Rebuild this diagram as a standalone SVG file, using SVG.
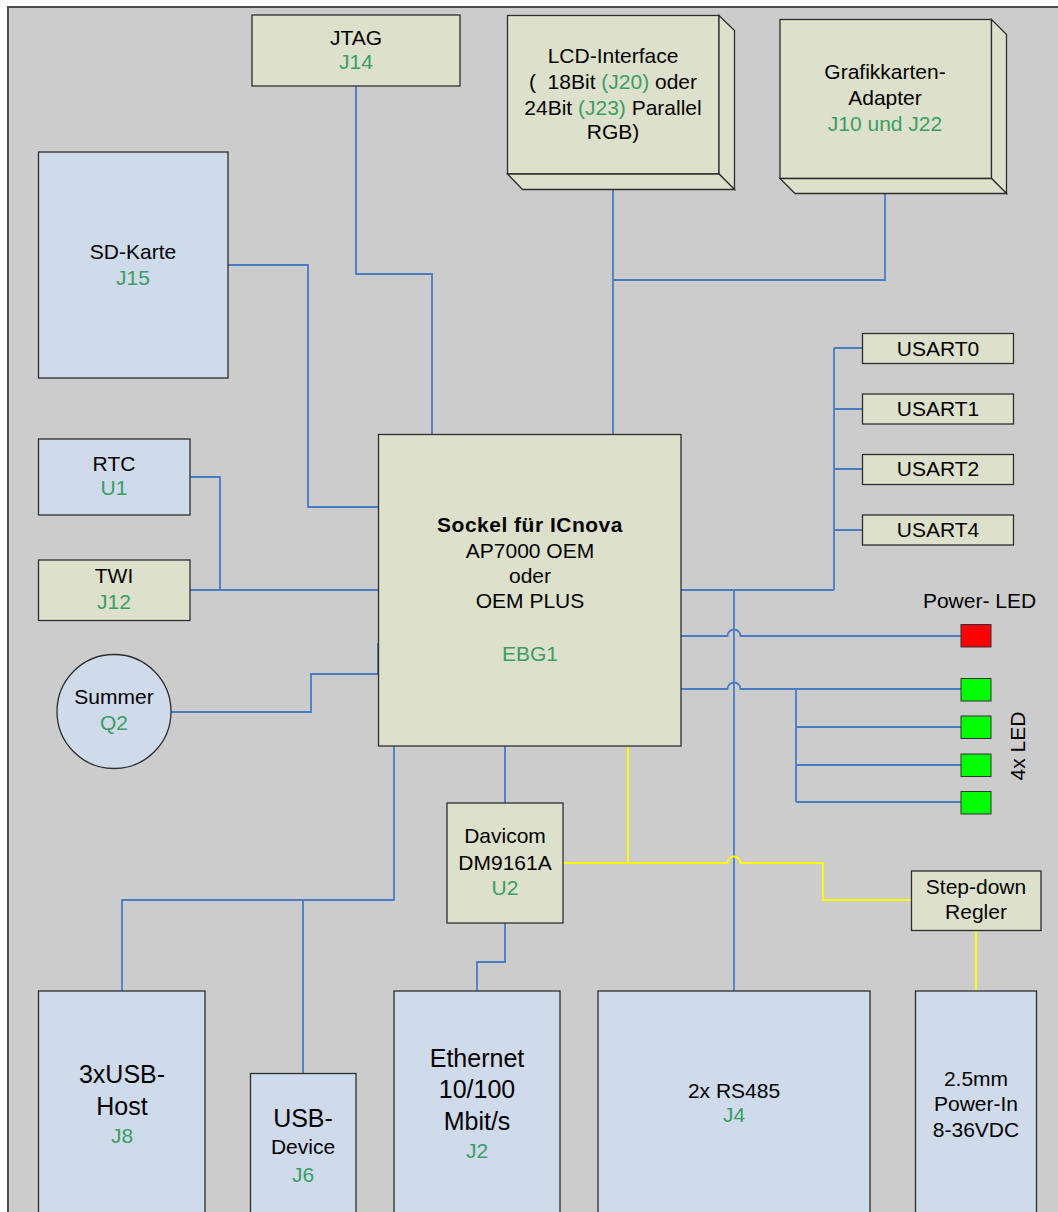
<svg xmlns="http://www.w3.org/2000/svg" width="1058" height="1212" viewBox="0 0 1058 1212">
<style>
.bg{fill:#cccccc;stroke:#4d4d4d;stroke-width:2}
.box{fill:#dde0cb;stroke:#2e2e2e;stroke-width:1.3}
.bbox{fill:#cfdaeb;stroke:#2e2e2e;stroke-width:1.3}
.w{fill:none;stroke:#4a7cc6;stroke-width:1.8}
.y{fill:none;stroke:#ffff00;stroke-width:1.8}
.t{font-family:"Liberation Sans",Arial,sans-serif;font-size:21px;fill:#000;text-anchor:middle}
.big{font-size:25px}
.g{fill:#3a9e63}
.b{font-weight:bold;letter-spacing:0.5px}
.led{stroke:#333;stroke-width:1}
</style>
<rect x="0" y="0" width="1058" height="1212" fill="#ffffff"/>
<rect class="bg" x="8" y="7" width="1100" height="1300"/>

<g id="connectors">
  <path class="w" d="M356,86 V274 H432 V434"/>
  <path class="w" d="M228,265 H308 V507 H378"/>
  <path class="w" d="M190,477 H220 V590"/>
  <path class="w" d="M190,590 H378"/>
  <path class="w" d="M171,712 H311 V674 H378 M378,643 V674"/>
  <path class="w" d="M613,174 V434"/>
  <path class="w" d="M885,178 V280 H613"/>
  <path class="w" d="M681,590 H834 M834,348 V590 M834,348 H862 M834,409 H862 M834,469 H862 M834,530 H862"/>
  <path class="w" d="M734,590 V991"/>
  <path class="w" d="M681,636 H727.5 A6.5,6.5 0 0 1 740.5,636 H961"/>
  <path class="w" d="M681,689 H727.5 A6.5,6.5 0 0 1 740.5,689 H961 M796,689 V802 M796,727 H961 M796,765 H961 M796,802 H961"/>
  <path class="w" d="M394,746 V900 H122 V991 M303,900 V1073"/>
  <path class="w" d="M505,746 V803 M505,923 V962 H477 V991"/>
  <path class="y" d="M628,746 V863 M563,863 H727.5 A6.5,6.5 0 0 1 740.5,863 H823 V900 H911 M976,930 V991"/>
</g>

<g id="jtag">
  <rect class="box" x="252" y="15" width="208" height="71"/>
  <text class="t" x="356" y="45">JTAG</text>
  <text class="t g" x="356" y="69">J14</text>
</g>

<g id="lcd">
  <rect class="box" x="507.5" y="15.5" width="211.5" height="158.5"/>
  <polygon class="box" points="719,15.5 734.5,30.5 734.5,189.5 719,174"/>
  <polygon class="box" points="507.5,174 719,174 734.5,189.5 522.5,189.5"/>
  <text class="t" x="613" y="63">LCD-Interface</text>
  <text class="t" x="613" y="89" xml:space="preserve" style="white-space:pre">(  18Bit <tspan class="g">(J20)</tspan> oder</text>
  <text class="t" x="613" y="115" xml:space="preserve" style="white-space:pre">24Bit <tspan class="g">(J23)</tspan> Parallel</text>
  <text class="t" x="613" y="139">RGB)</text>
</g>

<g id="grafik">
  <rect class="box" x="780" y="19.5" width="211.5" height="159"/>
  <polygon class="box" points="991.5,19.5 1006.5,34.5 1006.5,193.5 991.5,178.5"/>
  <polygon class="box" points="780,178.5 991.5,178.5 1006.5,193.5 795,193.5"/>
  <text class="t" x="885" y="79">Grafikkarten-</text>
  <text class="t" x="885" y="105">Adapter</text>
  <text class="t g" x="885" y="131">J10 und J22</text>
</g>

<g id="sd">
  <rect class="bbox" x="38.5" y="152" width="189.5" height="226"/>
  <text class="t" x="133" y="259">SD-Karte</text>
  <text class="t g" x="133" y="285">J15</text>
</g>

<g id="rtc">
  <rect class="bbox" x="38.5" y="439" width="151.5" height="76"/>
  <text class="t" x="114" y="471">RTC</text>
  <text class="t g" x="114" y="495">U1</text>
</g>

<g id="twi">
  <rect class="box" x="38.5" y="560" width="151.5" height="60.5"/>
  <text class="t" x="114" y="583">TWI</text>
  <text class="t g" x="114" y="609">J12</text>
</g>

<g id="summer">
  <circle class="bbox" cx="114" cy="711.5" r="57"/>
  <text class="t" x="114" y="704">Summer</text>
  <text class="t g" x="114" y="730">Q2</text>
</g>

<g id="sockel">
  <rect class="box" x="378.5" y="434.5" width="302.5" height="311.5"/>
  <text class="t b" x="530" y="532">Sockel für ICnova</text>
  <text class="t" x="530" y="558">AP7000 OEM</text>
  <text class="t" x="530" y="583">oder</text>
  <text class="t" x="530" y="608">OEM PLUS</text>
  <text class="t g" x="530" y="661">EBG1</text>
</g>

<g id="usart0">
  <rect class="box" x="862.5" y="333.5" width="151" height="30"/>
  <text class="t" x="938" y="356">USART0</text>
</g>
<g id="usart1">
  <rect class="box" x="862.5" y="394" width="151" height="30"/>
  <text class="t" x="938" y="416">USART1</text>
</g>
<g id="usart2">
  <rect class="box" x="862.5" y="454.5" width="151" height="30"/>
  <text class="t" x="938" y="476">USART2</text>
</g>
<g id="usart4">
  <rect class="box" x="862.5" y="515" width="151" height="30"/>
  <text class="t" x="938" y="537">USART4</text>
</g>

<g id="power-led">
  <text class="t" x="979.5" y="608">Power- LED</text>
  <rect class="led" x="961" y="624.5" width="30" height="22.5" fill="#ff0000"/>
</g>

<g id="leds">
  <rect class="led" x="961" y="678.5" width="30" height="22.5" fill="#00ff00"/>
  <rect class="led" x="961" y="716" width="30" height="22.5" fill="#00ff00"/>
  <rect class="led" x="961" y="754" width="30" height="22.5" fill="#00ff00"/>
  <rect class="led" x="961" y="791.5" width="30" height="22.5" fill="#00ff00"/>
  <text class="t" transform="translate(1025,746) rotate(-90)" x="0" y="0">4x LED</text>
</g>

<g id="davicom">
  <rect class="box" x="447" y="803" width="116" height="120"/>
  <text class="t" x="505" y="843">Davicom</text>
  <text class="t" x="505" y="870">DM9161A</text>
  <text class="t g" x="505" y="895">U2</text>
</g>

<g id="stepdown">
  <rect class="box" x="911.5" y="871" width="129.5" height="59.5"/>
  <text class="t" x="976" y="894">Step-down</text>
  <text class="t" x="976" y="919">Regler</text>
</g>

<g id="usbhost">
  <rect class="bbox" x="38.5" y="991" width="166.5" height="240"/>
  <text class="t big" x="122" y="1083">3xUSB-</text>
  <text class="t big" x="122" y="1115">Host</text>
  <text class="t g" x="122" y="1143">J8</text>
</g>

<g id="usbdevice">
  <rect class="bbox" x="250.5" y="1073.5" width="105.5" height="160"/>
  <text class="t big" x="303" y="1127">USB-</text>
  <text class="t" x="303" y="1154">Device</text>
  <text class="t g" x="303" y="1182">J6</text>
</g>

<g id="ethernet">
  <rect class="bbox" x="394" y="991" width="166" height="240"/>
  <text class="t big" x="477" y="1067">Ethernet</text>
  <text class="t big" x="477" y="1098">10/100</text>
  <text class="t big" x="477" y="1130">Mbit/s</text>
  <text class="t g" x="477" y="1158">J2</text>
</g>

<g id="rs485">
  <rect class="bbox" x="598" y="991" width="272" height="240"/>
  <text class="t" x="734" y="1098">2x RS485</text>
  <text class="t g" x="734" y="1122">J4</text>
</g>

<g id="powerin">
  <rect class="bbox" x="915.5" y="991" width="121" height="240"/>
  <text class="t" x="976" y="1086">2.5mm</text>
  <text class="t" x="976" y="1111">Power-In</text>
  <text class="t" x="976" y="1137">8-36VDC</text>
</g>
</svg>
